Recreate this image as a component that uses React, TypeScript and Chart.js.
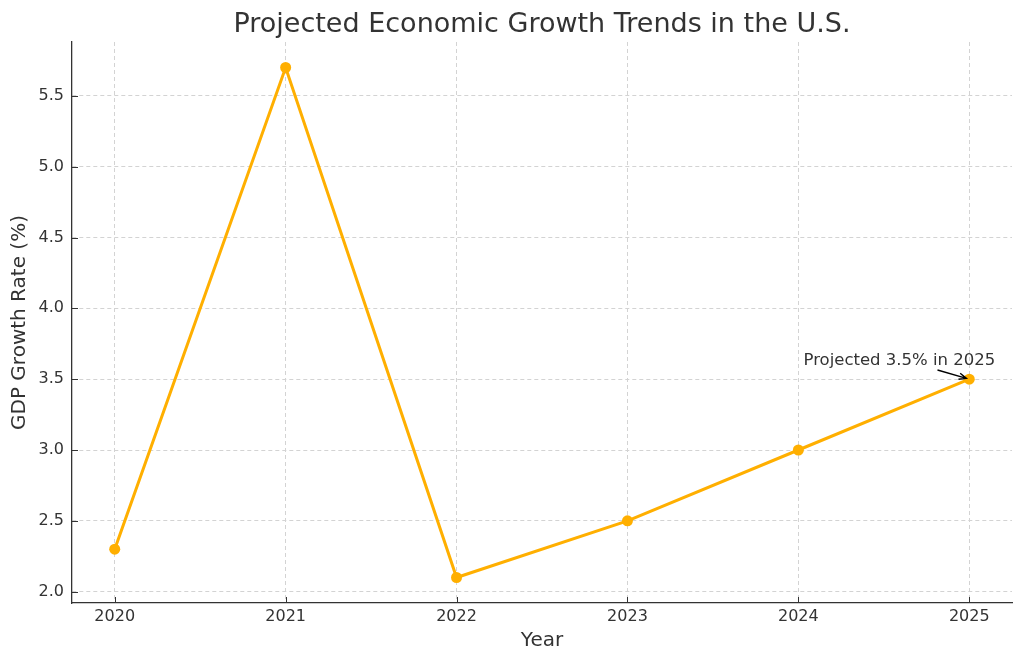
import React, { useEffect, useRef } from "react";
import { Chart, registerables } from "chart.js";

Chart.register(...registerables);

const years = [2020, 2021, 2022, 2023, 2024, 2025];
const gdpGrowth = [2.3, 5.7, 2.1, 2.5, 3.0, 3.5];
const yTicks = [2.0, 2.5, 3.0, 3.5, 4.0, 4.5, 5.0, 5.5];
const titleText = "Projected Economic Growth Trends in the U.S.";
const xLabel = "Year";
const yLabel = "GDP Growth Rate (%)";
const annotationText = "Projected 3.5% in 2025";
const annotationPoint = [2025, 3.5];
const annotationTextPos = [2024.03, 3.6];

const FONT = "'DejaVu Sans', sans-serif";
const TEXT = "#333333";
const LINE = "#FFAF00";

const titlePlugin = {
  id: "plotTitle",
  afterDraw(chart: any) {
    const { ctx, chartArea } = chart;
    ctx.save();
    ctx.font = `27px ${FONT}`;
    ctx.fillStyle = TEXT;
    ctx.textAlign = "center";
    ctx.textBaseline = "alphabetic";
    ctx.fillText(titleText, (chartArea.left + chartArea.right) / 2, 32);
    ctx.restore();
  },
};

const innerTicksPlugin = {
  id: "innerTicks",
  afterDraw(chart: any) {
    const { ctx, scales, chartArea } = chart;
    ctx.save();
    ctx.strokeStyle = "#333";
    ctx.lineWidth = 1;
    ctx.setLineDash([]);
    ctx.beginPath();
    for (const t of scales.x.ticks) {
      const px = Math.round(scales.x.getPixelForValue(t.value)) + 0.5;
      ctx.moveTo(px, chartArea.bottom);
      ctx.lineTo(px, chartArea.bottom - 6);
    }
    for (const t of scales.y.ticks) {
      const py = Math.round(scales.y.getPixelForValue(t.value)) + 0.5;
      ctx.moveTo(chartArea.left, py);
      ctx.lineTo(chartArea.left + 6, py);
    }
    ctx.stroke();
    ctx.restore();
  },
};

const annotationPlugin = {
  id: "annot",
  afterDatasetsDraw(chart: any) {
    const { ctx, scales } = chart;
    const xs = scales.x;
    const ys = scales.y;
    const tx = xs.getPixelForValue(annotationTextPos[0]);
    const ty = ys.getPixelForValue(annotationTextPos[1]);
    ctx.save();
    ctx.font = `16.5px ${FONT}`;
    ctx.fillStyle = TEXT;
    ctx.textAlign = "left";
    ctx.textBaseline = "alphabetic";
    ctx.fillText(annotationText, tx, ty);
    const w = ctx.measureText(annotationText).width;
    const cx = tx + w / 2;
    const cy = ty - 6;
    const px = xs.getPixelForValue(annotationPoint[0]);
    const py = ys.getPixelForValue(annotationPoint[1]);
    const dx = px - cx;
    const dy = py - cy;
    const len = Math.hypot(dx, dy);
    const ux = dx / len;
    const uy = dy / len;
    const bottom = ty + 5;
    const t0 = (bottom - cy) / uy;
    const sx = cx + ux * t0;
    const sy = cy + uy * t0;
    const ex = px - ux * 3;
    const ey = py - uy * 3;
    ctx.strokeStyle = "#000";
    ctx.lineWidth = 1.4;
    ctx.beginPath();
    ctx.moveTo(sx, sy);
    ctx.lineTo(ex, ey);
    const ah = 8;
    const ang = Math.atan2(uy, ux);
    ctx.moveTo(ex - ah * Math.cos(ang - 0.4), ey - ah * Math.sin(ang - 0.4));
    ctx.lineTo(ex, ey);
    ctx.lineTo(ex - ah * Math.cos(ang + 0.4), ey - ah * Math.sin(ang + 0.4));
    ctx.stroke();
    ctx.restore();
  },
};

export default function App() {
  const ref = useRef<HTMLCanvasElement>(null);
  useEffect(() => {
    if (!ref.current) return;
    const chart = new Chart(ref.current, {
      type: "line",
      data: {
        datasets: [
          {
            data: years.map((y, i) => ({ x: y, y: gdpGrowth[i] })),
            borderColor: LINE,
            backgroundColor: LINE,
            borderWidth: 3,
            pointRadius: 5.5,
            pointBorderWidth: 0,
            pointBackgroundColor: LINE,
            pointBorderColor: LINE,
            tension: 0,
          },
        ],
      },
      options: {
        responsive: false,
        animation: false,
        layout: { padding: { left: 0, right: 12, top: 42, bottom: 0 } },
        plugins: {
          legend: { display: false },
          tooltip: { enabled: false },
          title: { display: false },
        },
        scales: {
          x: {
            type: "linear",
            min: 2019.75,
            max: 2025.25,
            afterBuildTicks: (s: any) => {
              s.ticks = years.map((v) => ({ value: v }));
            },
            afterFit: (s: any) => {
              s.height = 62;
            },
            ticks: {
              color: TEXT,
              font: { family: FONT, size: 16 },
              padding: 4,
              callback: (v: any) => String(v),
            },
            grid: {
              color: "#d3d3d3",
              lineWidth: 1,
              drawTicks: false,
            },
            border: { display: true, color: "#333", width: 1.3, dash: [4, 3] },
            title: {
              display: true,
              text: xLabel,
              color: TEXT,
              font: { family: FONT, size: 20 },
              padding: { top: 0, bottom: 12 },
            },
          },
          y: {
            type: "linear",
            min: 1.92,
            max: 5.88,
            afterBuildTicks: (s: any) => {
              s.ticks = yTicks.map((v) => ({ value: v }));
            },
            afterFit: (s: any) => {
              s.width = 72;
            },
            ticks: {
              color: TEXT,
              font: { family: FONT, size: 16 },
              padding: 8,
              callback: (v: any) => Number(v).toFixed(1),
            },
            grid: {
              color: "#d3d3d3",
              lineWidth: 1,
              drawTicks: false,
            },
            border: { display: true, color: "#333", width: 1.3, dash: [4, 3] },
            title: {
              display: true,
              text: yLabel,
              color: TEXT,
              font: { family: FONT, size: 20 },
              padding: { top: 8, bottom: 0 },
            },
          },
        },
      } as any,
      plugins: [annotationPlugin, innerTicksPlugin, titlePlugin],
    });
    return () => chart.destroy();
  }, []);
  return (
    <div style={{ position: "absolute", left: 0, top: 0, width: 1024, height: 665, background: "#fff" }}>
      <canvas ref={ref} width={1024} height={665} style={{ display: "block" }} />
    </div>
  );
}
